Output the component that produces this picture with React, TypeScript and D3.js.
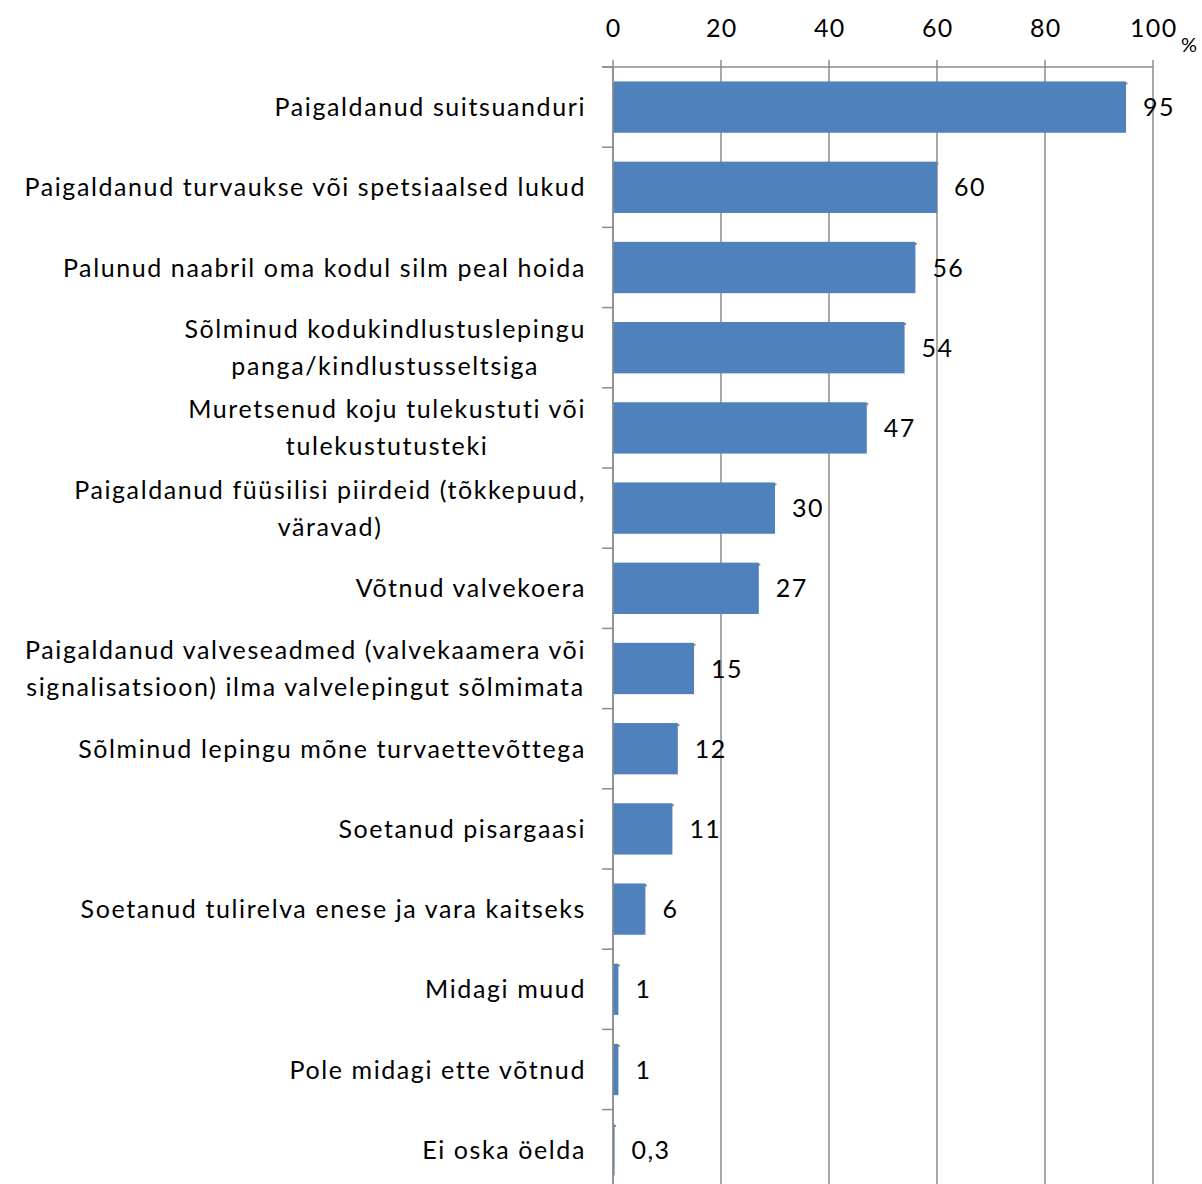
import { useEffect, useRef } from 'react';
import * as d3 from 'd3';

// Categories (each entry is the list of label lines), values in %
const categories: string[][] = [
  ['Paigaldanud suitsuanduri'],
  ['Paigaldanud turvaukse või spetsiaalsed lukud'],
  ['Palunud naabril oma kodul silm peal hoida'],
  ['Sõlminud kodukindlustuslepingu', 'panga/kindlustusseltsiga'],
  ['Muretsenud koju tulekustuti või', 'tulekustutusteki'],
  ['Paigaldanud füüsilisi piirdeid (tõkkepuud,', 'väravad)'],
  ['Võtnud valvekoera'],
  ['Paigaldanud valveseadmed (valvekaamera või', 'signalisatsioon) ilma valvelepingut sõlmimata'],
  ['Sõlminud lepingu mõne turvaettevõttega'],
  ['Soetanud pisargaasi'],
  ['Soetanud tulirelva enese ja vara kaitseks'],
  ['Midagi muud'],
  ['Pole midagi ette võtnud'],
  ['Ei oska öelda'],
];
const values = [95, 60, 56, 54, 47, 30, 27, 15, 12, 11, 6, 1, 1, 0.3];
const xTicks = [0, 20, 40, 60, 80, 100];

const W = 1202;
const H = 1184;
const BAR_COLOR = '#4f81bd';
const GRID_COLOR = '#8c8c8c';
const FONT = 'Lato, "Open Sans", sans-serif';

export default function App() {
  const svgRef = useRef<SVGSVGElement>(null);

  useEffect(() => {
    document.body.style.margin = '0';
    if (!svgRef.current) return;
    const svg = d3.select(svgRef.current);
    svg.selectAll('*').remove();

    const plotLeft = 613;
    const plotRight = 1153;
    const plotTop = 67;
    const band = 80.2;

    const x = d3.scaleLinear().domain([0, 100]).range([plotLeft, plotRight]);
    const y = d3
      .scaleBand<number>()
      .domain(d3.range(categories.length))
      .range([plotTop, plotTop + band * categories.length])
      .paddingInner(0.36)
      .paddingOuter(0.18);

    const g = svg.append('g');

    // vertical gridlines + top ticks
    g.selectAll('line.grid')
      .data(xTicks)
      .join('line')
      .attr('class', 'grid')
      .attr('x1', (d) => x(d))
      .attr('x2', (d) => x(d))
      .attr('y1', plotTop - 7)
      .attr('y2', H)
      .attr('stroke', GRID_COLOR)
      .attr('stroke-width', 1.5);

    // top axis line
    g.append('line')
      .attr('x1', plotLeft - 11)
      .attr('x2', plotRight)
      .attr('y1', plotTop)
      .attr('y2', plotTop)
      .attr('stroke', GRID_COLOR)
      .attr('stroke-width', 1.5);

    // tick labels
    g.selectAll('text.tick')
      .data(xTicks)
      .join('text')
      .attr('class', 'tick')
      .attr('x', (d) => x(d) + 0.8)
      .attr('y', 37)
      .attr('text-anchor', 'middle')
      .attr('font-family', FONT)
      .attr('font-size', 25)
      .attr('letter-spacing', 1.4)
      .attr('fill', '#000')
      .text((d) => String(d));

    g.append('text')
      .attr('x', 1189)
      .attr('y', 52)
      .attr('text-anchor', 'middle')
      .attr('font-family', FONT)
      .attr('font-size', 20)
      .text('%');

    // category ticks on y axis
    g.selectAll('line.ytick')
      .data(d3.range(categories.length + 1))
      .join('line')
      .attr('class', 'ytick')
      .attr('x1', plotLeft - 11)
      .attr('x2', plotLeft)
      .attr('y1', (i) => plotTop + i * band)
      .attr('y2', (i) => plotTop + i * band)
      .attr('stroke', GRID_COLOR)
      .attr('stroke-width', 1.5);

    // bars
    g.selectAll('rect.bar')
      .data(values)
      .join('rect')
      .attr('class', 'bar')
      .attr('x', x(0))
      .attr('y', (_, i) => y(i)!)
      .attr('width', (d) => x(d) - x(0))
      .attr('height', y.bandwidth())
      .attr('fill', BAR_COLOR);

    // small shadow dot at bar top-right corner
    g.selectAll('rect.shadow')
      .data(values)
      .join('rect')
      .attr('class', 'shadow')
      .attr('x', (d) => x(d) - 0.5)
      .attr('y', (_, i) => y(i)! + 1)
      .attr('width', 2)
      .attr('height', 2)
      .attr('fill', '#888');

    // y axis line
    g.append('line')
      .attr('x1', plotLeft)
      .attr('x2', plotLeft)
      .attr('y1', plotTop)
      .attr('y2', H)
      .attr('stroke', GRID_COLOR)
      .attr('stroke-width', 1.5);

    // value labels
    g.selectAll('text.value')
      .data(values)
      .join('text')
      .attr('class', 'value')
      .attr('x', (d) => x(d) + 17)
      .attr('y', (_, i) => y(i)! + y.bandwidth() / 2 + 9)
      .attr('font-family', FONT)
      .attr('font-size', 25)
      .attr('letter-spacing', 1.4)
      .attr('fill', '#000')
      .text((d) => String(d).replace('.', ','));

    // category labels: lines centered within a right-aligned block
    const labelRight = 586;
    const lineGap = 37;
    categories.forEach((lines, i) => {
      const cy = y(i)! + y.bandwidth() / 2;
      const grp = g.append('g');
      const texts = lines.map((line, j) =>
        grp
          .append('text')
          .attr('y', cy + (j - (lines.length - 1) / 2) * lineGap + 9)
          .attr('font-family', FONT)
          .attr('font-size', 25)
          .attr('letter-spacing', 1.6)
          .attr('fill', '#000')
          .attr('text-anchor', 'middle')
          .text(line)
      );
      const widths = texts.map((t) => (t.node() as SVGTextElement).getComputedTextLength());
      const maxW = Math.max(...widths);
      texts.forEach((t) => t.attr('x', labelRight - maxW / 2));
    });
  }, []);

  return (
    <svg ref={svgRef} width={W} height={H} style={{ display: 'block', background: '#fff' }} />
  );
}
